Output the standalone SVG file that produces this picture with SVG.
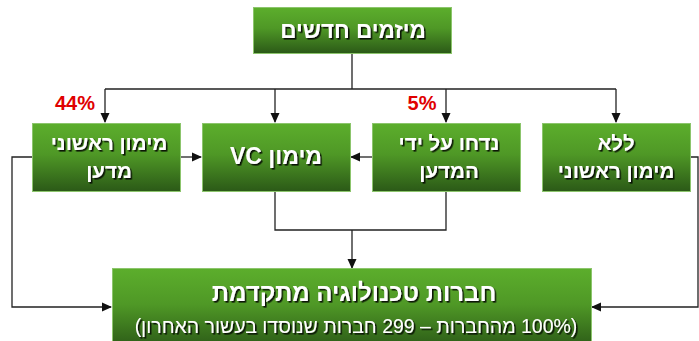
<svg xmlns="http://www.w3.org/2000/svg" width="699" height="341" viewBox="0 0 699 341">
<defs>
<linearGradient id="g" x1="0" y1="0" x2="0" y2="1">
<stop offset="0" stop-color="#5cae2c"/>
<stop offset="0.45" stop-color="#4f9826"/>
<stop offset="1" stop-color="#2b5917"/>
</linearGradient>
<filter id="ts" x="-10%" y="-20%" width="120%" height="140%">
<feDropShadow dx="1.6" dy="1.6" stdDeviation="0.7" flood-color="#000" flood-opacity="0.85"/>
</filter>
<marker id="ah" markerWidth="10" markerHeight="10" refX="9" refY="5" orient="auto" markerUnits="userSpaceOnUse">
<path d="M0,0.5 L10,5 L0,9.5 z" fill="#111"/>
</marker>
</defs>
<style>
.box{fill:url(#g);stroke:#8cc56c;stroke-width:1}
.t{font-family:"Liberation Sans","DejaVu Sans",sans-serif;font-weight:bold;font-size:20.5px;fill:#fff;text-anchor:middle;filter:url(#ts)}
.s{font-family:"Liberation Sans","DejaVu Sans",sans-serif;font-size:19.5px;fill:#fff;text-anchor:middle;filter:url(#ts)}
.pct{font-family:"Liberation Sans","DejaVu Sans",sans-serif;font-weight:bold;font-size:20px;fill:#e00000;text-anchor:middle}
.c{fill:none;stroke:#222;stroke-width:1.3}
</style>
<g id="connectors">
<path class="c" d="M352,53 V89 M105,89 H616"/>
<path class="c" d="M105,89 V122" marker-end="url(#ah)"/>
<path class="c" d="M275,89 V122" marker-end="url(#ah)"/>
<path class="c" d="M446,89 V122" marker-end="url(#ah)"/>
<path class="c" d="M616,89 V122" marker-end="url(#ah)"/>
<path class="c" d="M180,157 H201" marker-end="url(#ah)"/>
<path class="c" d="M372,157 H351" marker-end="url(#ah)"/>
<path class="c" d="M275,191 V230 H446 V191"/>
<path class="c" d="M352,230 V268" marker-end="url(#ah)"/>
<path class="c" d="M32,157 H12 V307 H111" marker-end="url(#ah)"/>
<path class="c" d="M691,157 H698 V307 H592" marker-end="url(#ah)"/>
</g>
<g id="n-top">
<rect class="box" x="253.5" y="7.5" width="198" height="46"/>
<text class="t" x="353" y="38" style="font-size:22.5px">מיזמים חדשים</text>
</g>
<g id="n-madan">
<rect class="box" x="32.5" y="123.5" width="148" height="68"/>
<text class="t" x="109" y="150">מימון ראשוני</text>
<text class="t" x="109" y="178">מדען</text>
</g>
<g id="n-vc">
<rect class="box" x="202.5" y="123.5" width="148" height="68"/>
<text class="t" x="276" y="164" direction="rtl" style="font-size:23px">מימון VC</text>
</g>
<g id="n-rejected">
<rect class="box" x="372.5" y="123.5" width="148" height="68"/>
<text class="t" x="449" y="150">נדחו על ידי</text>
<text class="t" x="449" y="178">המדען</text>
</g>
<g id="n-none">
<rect class="box" x="542.5" y="123.5" width="148" height="68"/>
<text class="t" x="616" y="150">ללא</text>
<text class="t" x="616" y="178">מימון ראשוני</text>
</g>
<g id="n-bottom">
<rect class="box" x="112.5" y="268.5" width="479" height="80"/>
<text class="t" x="354" y="301" style="font-size:24px">חברות טכנולוגיה מתקדמת</text>
<text class="s" x="356" y="333" direction="rtl">(100% מהחברות – 299 חברות שנוסדו  בעשור האחרון)</text>
</g>
<g id="labels">
<text class="pct" x="75" y="110">44%</text>
<text class="pct" x="422" y="110">5%</text>
</g>
</svg>
